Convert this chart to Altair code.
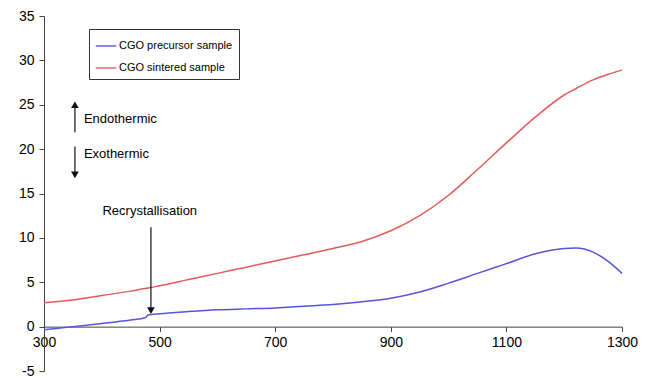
import altair as alt
import pandas as pd

temps = [300, 350, 400, 450, 475, 480, 500, 550, 600, 650, 700, 750, 800, 850,
         900, 950, 1000, 1050, 1100, 1150, 1200, 1220, 1250, 1275, 1300]
precursor = [-0.35, 0.0, 0.35, 0.75, 1.0, 1.3, 1.45, 1.7, 1.9, 2.0, 2.1, 2.3, 2.5, 2.8,
             3.2, 3.9, 4.9, 6.0, 7.1, 8.2, 8.8, 8.85, 8.4, 7.4, 6.0]
sintered = [2.7, 3.0, 3.5, 4.0, 4.3, 4.35, 4.6, 5.3, 6.0, 6.7, 7.4, 8.1, 8.8, 9.6,
            10.8, 12.5, 14.8, 17.7, 20.7, 23.6, 26.1, 26.8, 27.8, 28.4, 28.9]
series_names = ["CGO precursor sample", "CGO sintered sample"]
series_colors = ["#5555dd", "#e05c5c"]

x_ticks = [300, 500, 700, 900, 1100, 1300]
y_ticks = [-5, 0, 5, 10, 15, 20, 25, 30, 35]

label_texts = ["Endothermic", "Exothermic", "Recrystallisation"]
label_x = [369, 369, 483]
label_y = [23.4, 19.4, 13.0]
label_align = ["left", "left", "center"]

arrow_x = [353.5, 353.5, 485]
arrow_from = [21.9, 20.3, 11.2]
arrow_to = [25.0, 17.1, 1.8]
arrow_shape = ["triangle-up", "triangle-down", "triangle-down"]

W, H = 578, 355
font = "Liberation Sans"

df = pd.DataFrame({
    "T": temps * 2,
    "v": precursor + sintered,
    "s": [series_names[0]] * len(temps) + [series_names[1]] * len(temps),
})
lab = pd.DataFrame({"t": label_texts, "x": label_x, "y": label_y, "a": label_align})
arr = pd.DataFrame({"x": arrow_x, "y1": arrow_from, "y2": arrow_to, "shape": arrow_shape})

xs = alt.Scale(domain=[300, 1300], nice=False)
ys = alt.Scale(domain=[-5, 35], nice=False)

lines = alt.Chart(df).mark_line(strokeWidth=1.5, interpolate="monotone").encode(
    x=alt.X("T:Q", scale=xs, title=None,
            axis=alt.Axis(values=x_ticks, labelExpr="'' + datum.value", offset=-H / 40 * 5,
                          grid=False, tickSize=5, labelPadding=4, labelFontSize=14,
                          labelFont=font, labelColor="#000", domainColor="#444",
                          tickColor="#444", labelFlush=False)),
    y=alt.Y("v:Q", scale=ys, title=None,
            axis=alt.Axis(values=y_ticks, labelExpr="'' + datum.value", grid=False,
                          tickSize=5, labelPadding=5, labelFontSize=14, labelFont=font,
                          labelColor="#000", domainColor="#444", tickColor="#444")),
    color=alt.Color("s:N", scale=alt.Scale(domain=series_names, range=series_colors),
                    legend=alt.Legend(title=None, orient="none", legendX=45, legendY=13,
                                      symbolType="stroke", symbolSize=420,
                                      symbolStrokeWidth=1.4, labelFont=font,
                                      labelFontSize=11, labelColor="#000",
                                      strokeColor="#333", padding=6, rowPadding=6,
                                      labelOffset=2, fillColor="white")),
)

texts_left = alt.Chart(lab[lab.a == "left"]).mark_text(
    font=font, fontSize=13, baseline="middle", align="left", color="#000").encode(
    x=alt.X("x:Q", scale=xs), y=alt.Y("y:Q", scale=ys), text="t:N")
texts_center = alt.Chart(lab[lab.a == "center"]).mark_text(
    font=font, fontSize=13, baseline="middle", align="center", color="#000").encode(
    x=alt.X("x:Q", scale=xs), y=alt.Y("y:Q", scale=ys), text="t:N")

shafts = alt.Chart(arr).mark_rule(color="#111", strokeWidth=1.2).encode(
    x=alt.X("x:Q", scale=xs), y=alt.Y("y1:Q", scale=ys), y2="y2:Q")
heads = alt.Chart(arr).mark_point(filled=True, color="#111", size=60, opacity=1).encode(
    x=alt.X("x:Q", scale=xs), y=alt.Y("y2:Q", scale=ys),
    shape=alt.Shape("shape:N", scale=None))

chart = alt.layer(lines, shafts, heads, texts_left, texts_center).properties(
    width=W, height=H,
    background="white",
    autosize=alt.AutoSizeParams(type="none"),
    padding={"left": 44, "top": 16, "right": 24, "bottom": 7},
).configure_view(stroke=None)

chart.save("out.html", embed_options={"renderer": "svg", "actions": False})
